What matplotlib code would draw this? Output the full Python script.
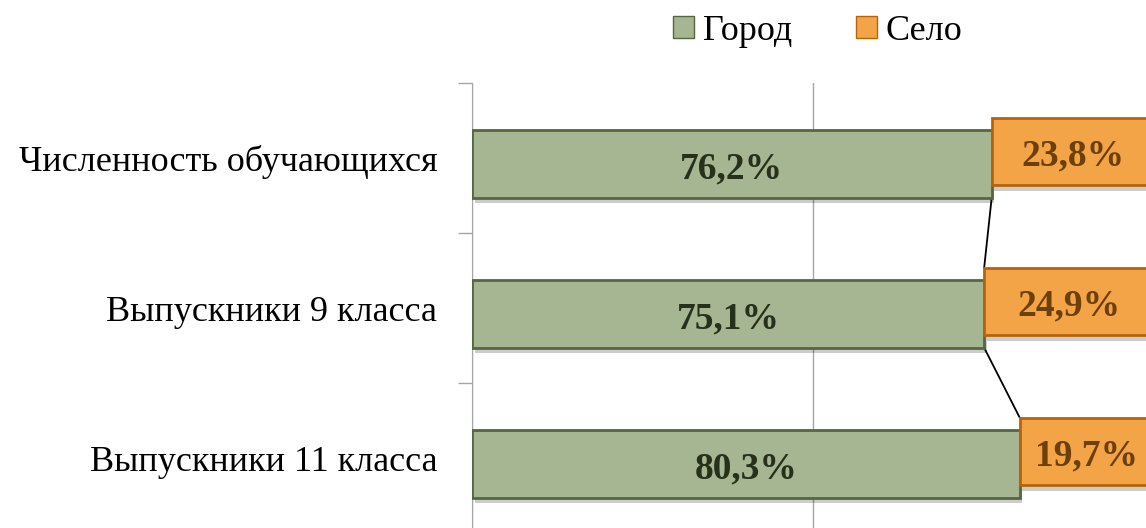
import matplotlib.pyplot as plt
import matplotlib.patheffects as pe
from matplotlib.patches import Patch

categories = ["Численность обучающихся", "Выпускники 9 класса", "Выпускники 11 класса"]
city = [76.2, 75.1, 80.3]
village = [23.8, 24.9, 19.7]
series_names = ["Город", "Село"]

plt.rcParams['font.family'] = ['Liberation Serif', 'DejaVu Serif']

green = '#a6b592'
green_edge = '#566640'
orange = '#f2a446'
orange_edge = '#b5640c'

fig = plt.figure(figsize=(11.46, 5.28), dpi=100)
# axes runs a little past the right and bottom edges, like the cropped original
ax = fig.add_axes([472 / 1146, (528 - 533) / 528, 682 / 1146, 450 / 528])

ypos = list(range(len(categories)))
h = 0.45
shadow = [pe.SimplePatchShadow(offset=(2, -4), shadow_rgbFace='#000000', alpha=0.2), pe.Normal()]

yg = [y + 0.04 for y in ypos]
yo = [y - 0.045 for y in ypos]
gb = ax.barh(yg, city, height=h, color=green, edgecolor=green_edge, linewidth=2, zorder=3)
ob = ax.barh(yo, village, left=city, height=h, color=orange, edgecolor=orange_edge, linewidth=2, zorder=3)
for b in list(gb) + list(ob):
    b.set_path_effects(shadow)

# series lines
for i in range(len(categories) - 1):
    ax.plot([city[i], city[i + 1]], [yg[i] + h / 2, yo[i + 1] - h / 2],
            color='black', lw=1.3, zorder=2, clip_on=False)

for i in ypos:
    ax.text(city[i] / 2, yg[i] + 0.035, f"{city[i]:.1f}%".replace('.', ','), ha='center', va='center',
            fontsize=27, fontweight='bold', color='#26301a', zorder=5)
    ax.text(city[i] + village[i] / 2, yo[i] + 0.03, f"{village[i]:.1f}%".replace('.', ','),
            ha='center', va='center', fontsize=27, fontweight='bold', color='#6e3f08', zorder=5)

ax.set_xlim(0, 100)
ax.set_ylim(2.5, -0.5)
ax.set_xticks([0, 50, 100])
ax.xaxis.grid(True, color='#a6a6a6', lw=1)
ax.tick_params(axis='x', bottom=False, labelbottom=False)
ax.set_yticks([-0.5, 0.5, 1.5, 2.5])
ax.set_yticks(ypos, minor=True)
ax.set_yticklabels([], minor=False)
ax.set_yticklabels(categories, minor=True, fontsize=26)
ax.tick_params(axis='y', which='major', length=10, color='#a6a6a6', width=1)
ax.tick_params(axis='y', which='minor', length=0, pad=25)
for s in ['top', 'right', 'bottom']:
    ax.spines[s].set_visible(False)
ax.spines['left'].set_color('#a6a6a6')
ax.set_axisbelow(True)

handles = [Patch(facecolor=green, edgecolor=green_edge, lw=1),
           Patch(facecolor=orange, edgecolor=orange_edge, lw=1)]
fig.legend(handles=handles, labels=series_names, loc='center', bbox_to_anchor=(818 / 1146, 1 - 31 / 528),
           ncol=2, frameon=False, fontsize=26, handlelength=0.58, handleheight=0.58,
           handletextpad=0.25, columnspacing=1.75)

plt.savefig('out.png', dpi=100)
